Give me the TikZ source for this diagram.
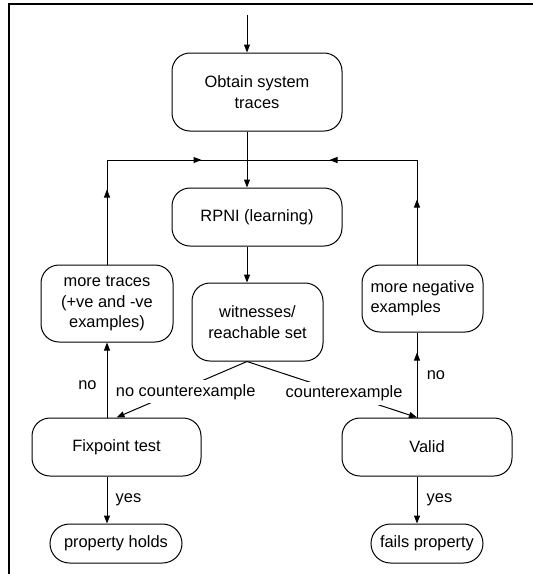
\documentclass[tikz,border=0pt]{standalone}
\usepackage{fontspec}
\setmainfont{Liberation Sans}
\usetikzlibrary{arrows.meta,decorations.markings,calc}
\begin{document}
\begin{tikzpicture}[x=1pt,y=-1pt,
  every node/.style={font=\fontsize{16.4}{20.5}\selectfont},
  box/.style={draw, line width=1pt, rounded corners=18pt, inner sep=0pt, align=center},
  pill/.style={draw, line width=1pt, rounded corners=19.5pt, inner sep=0pt, align=center},
  conn/.style={line width=1pt},
  arr/.style={conn, -{Triangle[length=8pt,width=6pt]}},
  lbl/.style={fill=white, inner sep=4pt},
  midtip/.style={postaction=decorate, decoration={markings,
      mark=at position #1 with {\arrow{Triangle[length=8pt,width=6pt]}}}},
  midtips/.style 2 args={postaction=decorate, decoration={markings,
      mark=at position #1 with {\arrow{Triangle[length=8pt,width=6pt]}},
      mark=at position #2 with {\arrow{Triangle[length=8pt,width=6pt]}}}},
]
\useasboundingbox (0,0) rectangle (533,574);
% frame (top and left edges only)
\draw[line width=1.8pt] (9,574) -- (9,4) -- (533,4);

% boxes
\node[box, minimum width=170pt, minimum height=78pt] (obtain) at (257,92) {Obtain system\\traces};
\node[box, minimum width=170pt, minimum height=58pt] (rpni) at (257,217) {RPNI (learning)};
\node[box, minimum width=131pt, minimum height=78pt] (wit) at (257.5,322) {witnesses/\\reachable set};
\node[box, minimum width=132pt, minimum height=77pt] (more) at (107,303.5) {more traces\\(+ve and -ve\\examples)};
\node[box, minimum width=121pt, minimum height=67pt, align=left] (neg) at (422.5,298.5) {more negative\\examples};
\node[box, minimum width=169pt, minimum height=58pt] (fix) at (116.5,447) {Fixpoint test};
\node[box, minimum width=170pt, minimum height=58pt] (valid) at (427,447) {Valid};
\node[pill, minimum width=132pt, minimum height=39pt] (holds) at (116,543.5) {property holds};
\node[pill, minimum width=112pt, minimum height=39pt] (fails) at (427,543.5) {fails property};

% helper coordinates
\coordinate (cl) at (107,0);
\coordinate (cm) at (247,0);
\coordinate (cr) at (417,0);
\coordinate (start) at (247,15);
\coordinate (jl) at (107,160);
\coordinate (jm) at (247,160);
\coordinate (jr) at (417,160);

% connectors
\draw[arr] (start) -- (cm |- obtain.north);
\draw[arr] (cm |- obtain.south) -- (cm |- rpni.north);
\draw[arr] (cm |- rpni.south) -- (cm |- wit.north);
\draw[conn, midtips={75pt}{199pt}] (cl |- more.north) -- (jl) -- (jm);
\draw[conn, midtips={65pt}{192pt}] (cr |- neg.north) -- (jr) -- (jm);
\draw[arr] (cm |- wit.south) -- node[lbl, pos=0.47, yshift=-4pt] {no counterexample} (fix.north);
\draw[arr] (cm |- wit.south) -- node[lbl, pos=0.571] {counterexample} (cr |- valid.north);
\draw[arr] (cl |- fix.north) -- node[pos=0.434, xshift=-19.5pt] {no} (cl |- more.south);
\draw[conn, midtip={65pt}] (cr |- valid.north) -- node[pos=0.5, xshift=19pt] {no} (cr |- neg.south);
\draw[arr] (cl |- fix.south) -- node[pos=0.5, xshift=21.5pt] {yes} (cl |- holds.north);
\draw[arr] (cr |- valid.south) -- node[pos=0.5, xshift=22.5pt] {yes} (cr |- fails.north);
\end{tikzpicture}
\end{document}
